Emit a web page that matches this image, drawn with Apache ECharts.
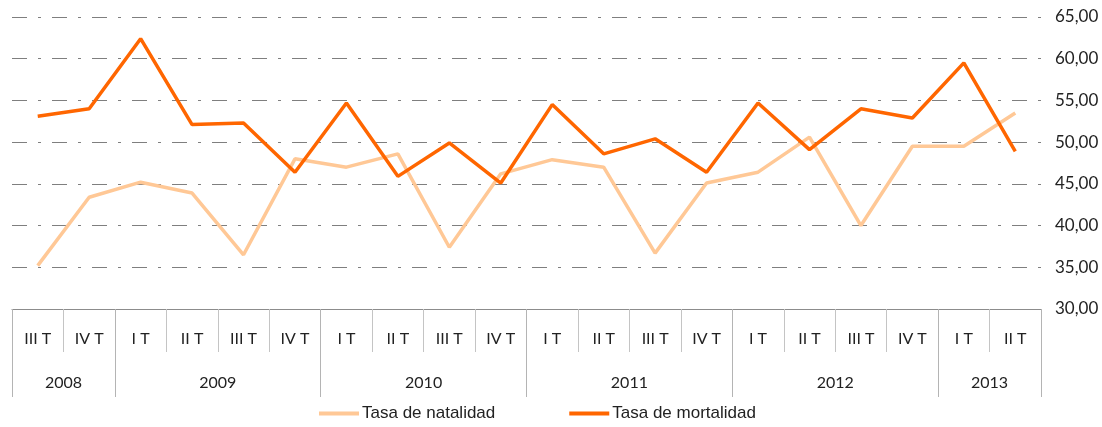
<!DOCTYPE html>
<html>
<head>
<meta charset="utf-8">
<script src="https://cdn.jsdelivr.net/npm/echarts@6/dist/echarts.min.js"></script>
<style>
  html, body { margin: 0; padding: 0; background: #fff; }
  #chart { width: 1102px; height: 427px; }
</style>
</head>
<body>
<div id="chart"></div>
<script>
// quarters along the bottom, one per data point
var quarters = ['III T', 'IV T',
  'I T', 'II T', 'III T', 'IV T',
  'I T', 'II T', 'III T', 'IV T',
  'I T', 'II T', 'III T', 'IV T',
  'I T', 'II T', 'III T', 'IV T',
  'I T', 'II T'];
// year groups and how many quarters each one spans
var years = ['2008', '2009', '2010', '2011', '2012', '2013'];
var yearSpans = [2, 4, 4, 4, 4, 2];

var natalidad = [35.2, 43.4, 45.2, 43.9, 36.5, 48.0, 47.0, 48.6, 37.4, 46.2,
  47.9, 47.0, 36.7, 45.1, 46.4, 50.6, 40.0, 49.5, 49.5, 53.5];
var mortalidad = [53.1, 54.0, 62.4, 52.1, 52.3, 46.4, 54.7, 45.9, 49.9, 45.1,
  54.5, 48.6, 50.4, 46.4, 54.7, 49.1, 54.0, 52.9, 59.5, 48.9];

// boundaries and centres of the year groups on a 0..n scale
var yearEdges = [0];
var yearMids = [];
yearSpans.forEach(function(s, i) {
  yearMids.push(yearEdges[i] + s / 2);
  yearEdges.push(yearEdges[i] + s);
});

var labelFont = 'Lato, "Open Sans", sans-serif';

var chart = echarts.init(document.getElementById('chart'));
chart.setOption({
  animation: false,
  grid: { left: 12, right: 61, top: 17, bottom: 118, containLabel: false },
  legend: {
    bottom: 0,
    left: 314,
    icon: 'rect',
    itemWidth: 40,
    itemHeight: 4,
    itemGap: 74,
    textStyle: { fontFamily: '"Liberation Sans", Arial, sans-serif', fontSize: 17, color: '#222', padding: [0, 0, 0, -2] },
    data: ['Tasa de natalidad', 'Tasa de mortalidad']
  },
  xAxis: [{
    type: 'category',
    data: quarters,
    position: 'bottom',
    boundaryGap: true,
    axisLine: { show: true, lineStyle: { color: '#8c8c8c', width: 1 } },
    axisTick: { show: true, interval: 0, length: 43, lineStyle: { color: '#c4c4c4' } },
    axisLabel: { interval: 0, margin: 22, color: '#222', fontSize: 16, fontFamily: labelFont },
    splitLine: { show: false }
  }, {
    type: 'value',
    position: 'bottom',
    min: 0,
    max: quarters.length,
    axisLine: { show: false },
    axisTick: { show: true, customValues: yearEdges, length: 88, lineStyle: { color: '#b4b4b4' } },
    axisLabel: {
      customValues: yearMids,
      margin: 66,
      color: '#222',
      fontSize: 16,
      fontFamily: labelFont,
      formatter: function(v) {
        var i = yearMids.indexOf(v);
        return i >= 0 ? years[i] : '';
      }
    },
    splitLine: { show: false }
  }],
  yAxis: {
    type: 'value',
    position: 'right',
    min: 30,
    max: 65,
    interval: 5,
    axisLine: { show: false },
    axisTick: { show: false },
    axisLabel: {
      margin: 14,
      color: '#222',
      fontSize: 17,
      fontFamily: labelFont,
      formatter: function(v) { return v.toFixed(2).replace('.', ','); }
    },
    splitLine: {
      show: true,
      lineStyle: { color: '#7f7f7f', width: 1, type: [15, 11, 3, 11] }
    }
  },
  series: [{
    name: 'Tasa de natalidad',
    type: 'line',
    xAxisIndex: 0,
    data: natalidad,
    symbol: 'none',
    lineStyle: { color: '#ffc896', width: 3.5 },
    itemStyle: { color: '#ffc896' }
  }, {
    name: 'Tasa de mortalidad',
    type: 'line',
    xAxisIndex: 0,
    data: mortalidad,
    symbol: 'none',
    lineStyle: { color: '#ff6600', width: 3.5 },
    itemStyle: { color: '#ff6600' }
  }]
});
</script>
</body>
</html>
